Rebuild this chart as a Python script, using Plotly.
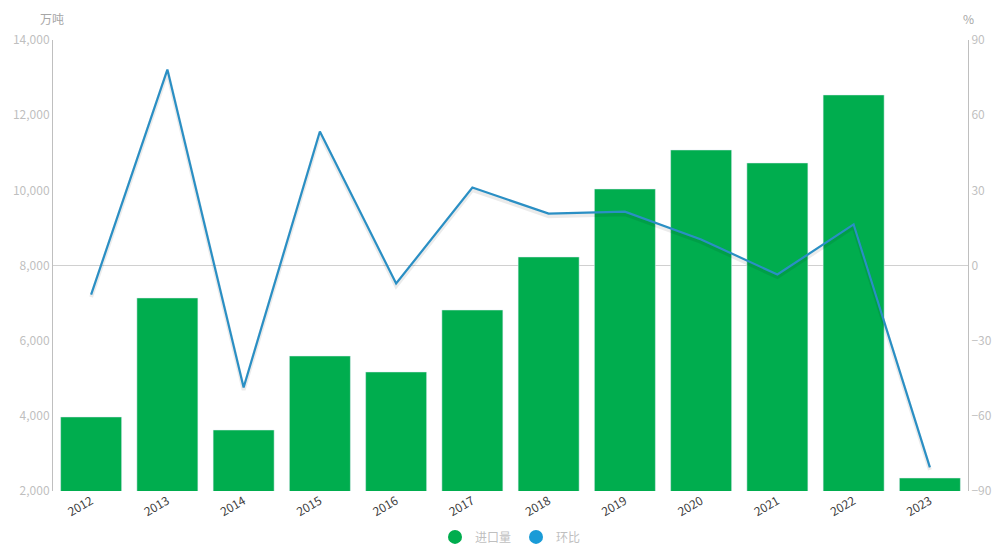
import plotly.graph_objects as go

years = ["2012", "2013", "2014", "2015", "2016", "2017", "2018", "2019", "2020", "2021", "2022", "2023"]
imports = [3970, 7136, 3623, 5592, 5167, 6816, 8227, 10036, 11074, 10728, 12538, 2346]
mom = [-11.6, 78.2, -48.7, 53.5, -7.2, 31.1, 20.7, 21.5, 10.4, -3.6, 16.4, -80.6]

left_ticks = [2000, 4000, 6000, 8000, 10000, 12000, 14000]
right_ticks = [-90, -60, -30, 0, 30, 60, 90]

green = "#00AD4E"
blue_line = "#2A8FC4"
blue_leg = "#1A9BD7"
font = "Noto Sans CJK SC"

fig = go.Figure()
fig.add_trace(go.Bar(x=years, y=imports, marker_color=green, name="进口量",
                     showlegend=False, yaxis="y"))
# soft shadow under the line
fig.add_trace(go.Scatter(x=years, y=[v - 1.0 for v in mom], mode="lines",
                         line=dict(color="rgba(0,0,0,0.08)", width=4),
                         showlegend=False, hoverinfo="skip", yaxis="y2"))
fig.add_trace(go.Scatter(x=years, y=mom, mode="lines", line=dict(color=blue_line, width=2.2),
                         name="环比", showlegend=False, yaxis="y2"))
# legend entries with circle markers
fig.add_trace(go.Scatter(x=[None], y=[None], mode="markers", name="进口量",
                         marker=dict(color=green, size=14, symbol="circle")))
fig.add_trace(go.Scatter(x=[None], y=[None], mode="markers", name="环比",
                         marker=dict(color=blue_leg, size=14, symbol="circle"), yaxis="y2"))

fig.update_layout(
    width=997, height=549,
    margin=dict(l=53, r=29, t=40, b=58, autoexpand=False),
    paper_bgcolor="white", plot_bgcolor="white",
    font=dict(family=font, size=12, color="#BFBFBF"),
    bargap=0.2,
    xaxis=dict(type="category", showgrid=False, showline=False, ticks="", automargin=False,
               tickangle=-30, tickfont=dict(color="#404040", size=12)),
    yaxis=dict(range=[2000, 14000], tickvals=left_ticks, tickformat=",", showgrid=False,
               zeroline=False, showline=True, linecolor="#BFBFBF", linewidth=1, automargin=False,
               tickfont=dict(color="#BFBFBF", size=12)),
    yaxis2=dict(range=[-90, 90], tickvals=right_ticks, overlaying="y", side="right",
                showgrid=False, zeroline=True, zerolinecolor="#D0D0D0", zerolinewidth=1,
                showline=True, linecolor="#BFBFBF", linewidth=1, automargin=False,
                tickfont=dict(color="#BFBFBF", size=12)),
    legend=dict(orientation="h", x=0.5, xanchor="center", yref="container", y=0.022,
                yanchor="middle", font=dict(color="#BFBFBF", size=12), itemsizing="trace"),
    annotations=[
        dict(text="万吨", xref="paper", yref="paper", x=0, y=1.0, yshift=22, xshift=-1,
             xanchor="center", yanchor="middle", showarrow=False,
             font=dict(color="#A6A6A6", size=12)),
        dict(text="%", xref="paper", yref="paper", x=1.0, y=1.0, yshift=22,
             xanchor="center", yanchor="middle", showarrow=False,
             font=dict(color="#A6A6A6", size=12)),
    ],
)

fig.write_html("out.html", config={"displayModeBar": False},
               post_script="document.body.style.margin='0';")
